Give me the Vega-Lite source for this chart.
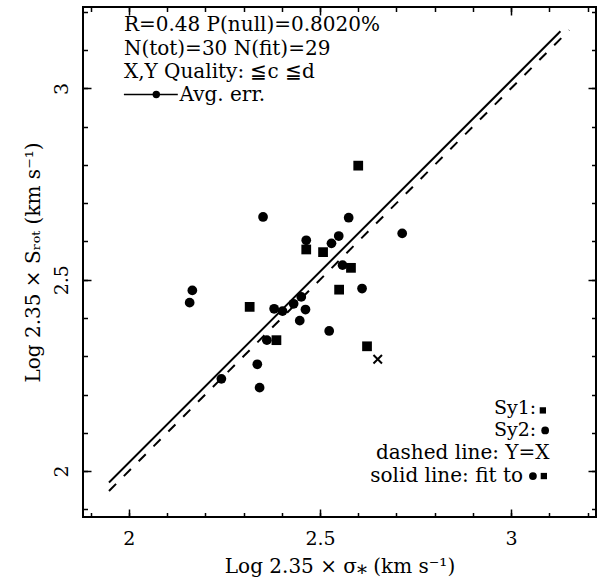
{
  "$schema": "https://vega.github.io/schema/vega-lite/v6.json",
  "width": 513,
  "height": 510,
  "autosize": {"type": "none"},
  "padding": {"left": 83, "top": 7, "right": 2, "bottom": 65},
  "background": "white",
  "config": {
    "view": {"stroke": "black", "strokeWidth": 2},
    "font": "DejaVu Serif",
    "axis": {
      "domain": false, "grid": false, "tickColor": "black", "tickWidth": 1.5,
      "labelColor": "black", "titleColor": "black",
      "labelFont": "DejaVu Serif", "titleFont": "DejaVu Serif",
      "labelFontSize": 19, "titleFontSize": 20, "titleFontWeight": "normal"
    }
  },
  "datasets": {
    "pts": [
      {"sx": 2.600, "sy": 2.798, "grp": "Sy1"},
      {"sx": 2.464, "sy": 2.579, "grp": "Sy1"},
      {"sx": 2.508, "sy": 2.572, "grp": "Sy1"},
      {"sx": 2.581, "sy": 2.531, "grp": "Sy1"},
      {"sx": 2.550, "sy": 2.474, "grp": "Sy1"},
      {"sx": 2.316, "sy": 2.429, "grp": "Sy1"},
      {"sx": 2.386, "sy": 2.342, "grp": "Sy1"},
      {"sx": 2.623, "sy": 2.326, "grp": "Sy1"},
      {"sx": 2.351, "sy": 2.664, "grp": "Sy2"},
      {"sx": 2.575, "sy": 2.662, "grp": "Sy2"},
      {"sx": 2.715, "sy": 2.621, "grp": "Sy2"},
      {"sx": 2.464, "sy": 2.603, "grp": "Sy2"},
      {"sx": 2.549, "sy": 2.614, "grp": "Sy2"},
      {"sx": 2.530, "sy": 2.595, "grp": "Sy2"},
      {"sx": 2.559, "sy": 2.538, "grp": "Sy2"},
      {"sx": 2.610, "sy": 2.477, "grp": "Sy2"},
      {"sx": 2.166, "sy": 2.472, "grp": "Sy2"},
      {"sx": 2.159, "sy": 2.440, "grp": "Sy2"},
      {"sx": 2.380, "sy": 2.424, "grp": "Sy2"},
      {"sx": 2.402, "sy": 2.418, "grp": "Sy2"},
      {"sx": 2.431, "sy": 2.437, "grp": "Sy2"},
      {"sx": 2.451, "sy": 2.455, "grp": "Sy2"},
      {"sx": 2.462, "sy": 2.422, "grp": "Sy2"},
      {"sx": 2.447, "sy": 2.393, "grp": "Sy2"},
      {"sx": 2.524, "sy": 2.366, "grp": "Sy2"},
      {"sx": 2.361, "sy": 2.342, "grp": "Sy2"},
      {"sx": 2.336, "sy": 2.279, "grp": "Sy2"},
      {"sx": 2.242, "sy": 2.241, "grp": "Sy2"},
      {"sx": 2.342, "sy": 2.218, "grp": "Sy2"},
      {"sx": 2.651, "sy": 2.292, "grp": "X"}
    ],
    "fit": [{"sx": 1.948, "sy": 1.970}, {"sx": 3.129, "sy": 3.149}],
    "yx": [{"sx": 1.948, "sy": 1.948}, {"sx": 3.152, "sy": 3.152}]
  },
  "layer": [
    {
      "data": {"name": "pts"},
      "transform": [{"filter": "datum.grp !== 'X'"}],
      "mark": {"type": "point", "filled": true, "color": "black", "opacity": 1, "size": 95},
      "encoding": {
        "x": {"field": "sx", "type": "quantitative",
              "scale": {"domain": [1.88, 3.222], "nice": false, "zero": false},
              "axis": {"orient": "bottom", "values": [2, 2.5, 3], "format": "~g", "tickSize": -8,
                       "labelPadding": 20, "title": "Log 2.35 × σ⁎ (km s⁻¹)", "titlePadding": 8}},
        "y": {"field": "sy", "type": "quantitative",
              "scale": {"domain": [1.88, 3.2125], "nice": false, "zero": false},
              "axis": {"orient": "left", "values": [2, 2.5, 3], "format": "~g", "tickSize": -8,
                       "labelPadding": 24, "labelAngle": -90, "labelAlign": "center", "labelBaseline": "alphabetic",
                       "title": "Log 2.35 × Sᵣₒₜ (km s⁻¹)", "titlePadding": 9}},
        "shape": {"field": "grp", "type": "nominal",
                  "scale": {"domain": ["Sy1", "Sy2"], "range": ["square", "circle"]}, "legend": null}
      }
    },
    {
      "data": {"name": "pts"},
      "transform": [{"filter": "datum.grp === 'X'"}],
      "mark": {"type": "point", "filled": false, "shape": "M-1,-1L1,1M-1,1L1,-1", "stroke": "black", "strokeWidth": 2, "opacity": 1, "size": 72},
      "encoding": {
        "x": {"field": "sx", "type": "quantitative",
              "axis": {"orient": "bottom", "values": [1.9, 2, 2.1, 2.2, 2.3, 2.4, 2.5, 2.6, 2.7, 2.8, 2.9, 3, 3.1, 3.2],
                       "tickSize": -4.5, "labels": false, "title": null}},
        "y": {"field": "sy", "type": "quantitative",
              "axis": {"orient": "left", "values": [1.9, 2, 2.1, 2.2, 2.3, 2.4, 2.5, 2.6, 2.7, 2.8, 2.9, 3, 3.1, 3.2],
                       "tickSize": -4.5, "labels": false, "title": null}}
      }
    },
    {
      "data": {"name": "fit"},
      "mark": {"type": "line", "color": "black", "strokeWidth": 2},
      "encoding": {
        "x": {"field": "sx", "type": "quantitative",
              "axis": {"orient": "top", "values": [1.9, 2, 2.1, 2.2, 2.3, 2.4, 2.5, 2.6, 2.7, 2.8, 2.9, 3, 3.1, 3.2],
                       "tickSize": -4.5, "labels": false, "title": null}},
        "y": {"field": "sy", "type": "quantitative",
              "axis": {"orient": "right", "values": [1.9, 2, 2.1, 2.2, 2.3, 2.4, 2.5, 2.6, 2.7, 2.8, 2.9, 3, 3.1, 3.2],
                       "tickSize": -4.5, "labels": false, "title": null}}
      }
    },
    {
      "data": {"name": "yx"},
      "mark": {"type": "line", "color": "black", "strokeWidth": 2, "strokeDash": [10, 11]},
      "encoding": {
        "x": {"field": "sx", "type": "quantitative",
              "axis": {"orient": "top", "values": [2, 2.5, 3], "tickSize": -8, "labels": false, "title": null}},
        "y": {"field": "sy", "type": "quantitative",
              "axis": {"orient": "right", "values": [2, 2.5, 3], "tickSize": -8, "labels": false, "title": null}}
      }
    },
    {
      "data": {"values": [{}]},
      "mark": {"type": "text", "align": "left", "baseline": "alphabetic", "fontSize": 20, "font": "DejaVu Serif", "color": "black", "lineHeight": 23.5,
               "text": ["R=0.48 P(null)=0.8020%", "N(tot)=30 N(fit)=29", "X,Y Quality: ≦c ≦d"]},
      "encoding": {"x": {"datum": 1.987, "type": "quantitative", "axis": null}, "y": {"datum": 3.1497, "type": "quantitative", "axis": null}}
    },
    {
      "data": {"values": [{}]},
      "mark": {"type": "rule", "color": "black", "strokeWidth": 1.5},
      "encoding": {"x": {"datum": 1.987, "type": "quantitative", "axis": null}, "x2": {"datum": 2.128}, "y": {"datum": 2.984, "type": "quantitative", "axis": null}}
    },
    {
      "data": {"values": [{}]},
      "mark": {"type": "point", "shape": "circle", "filled": true, "color": "black", "opacity": 1, "size": 55},
      "encoding": {"x": {"datum": 2.0717, "type": "quantitative", "axis": null}, "y": {"datum": 2.984, "type": "quantitative", "axis": null}}
    },
    {
      "data": {"values": [{}]},
      "mark": {"type": "text", "align": "left", "baseline": "alphabetic", "fontSize": 20, "font": "DejaVu Serif", "color": "black", "text": "Avg. err."},
      "encoding": {"x": {"datum": 2.1326, "type": "quantitative", "axis": null}, "y": {"datum": 2.9668, "type": "quantitative", "axis": null}}
    },
    {
      "data": {"values": [{}]},
      "mark": {"type": "text", "align": "right", "baseline": "alphabetic", "fontSize": 19, "font": "DejaVu Serif", "color": "black", "text": "Sy1:"},
      "encoding": {"x": {"datum": 3.0657, "type": "quantitative", "axis": null}, "y": {"datum": 2.1495, "type": "quantitative", "axis": null}}
    },
    {
      "data": {"values": [{}]},
      "mark": {"type": "text", "align": "right", "baseline": "alphabetic", "fontSize": 19, "font": "DejaVu Serif", "color": "black", "text": "Sy2:"},
      "encoding": {"x": {"datum": 3.0657, "type": "quantitative", "axis": null}, "y": {"datum": 2.0907, "type": "quantitative", "axis": null}}
    },
    {
      "data": {"values": [{}]},
      "mark": {"type": "text", "align": "right", "baseline": "alphabetic", "fontSize": 20, "font": "DejaVu Serif", "color": "black", "text": "dashed line: Y=X"},
      "encoding": {"x": {"datum": 3.1005, "type": "quantitative", "axis": null}, "y": {"datum": 2.0306, "type": "quantitative", "axis": null}}
    },
    {
      "data": {"values": [{}]},
      "mark": {"type": "text", "align": "right", "baseline": "alphabetic", "fontSize": 20, "font": "DejaVu Serif", "color": "black", "text": "solid line: fit to"},
      "encoding": {"x": {"datum": 3.031, "type": "quantitative", "axis": null}, "y": {"datum": 1.9705, "type": "quantitative", "axis": null}}
    },
    {
      "data": {"values": [{}]},
      "mark": {"type": "point", "shape": "square", "filled": true, "color": "black", "opacity": 1, "size": 40},
      "encoding": {"x": {"datum": 3.083, "type": "quantitative", "axis": null}, "y": {"datum": 2.1585, "type": "quantitative", "axis": null}}
    },
    {
      "data": {"values": [{}]},
      "mark": {"type": "point", "shape": "circle", "filled": true, "color": "black", "opacity": 1, "size": 60},
      "encoding": {"x": {"datum": 3.089, "type": "quantitative", "axis": null}, "y": {"datum": 2.1063, "type": "quantitative", "axis": null}}
    },
    {
      "data": {"values": [{}]},
      "mark": {"type": "point", "shape": "circle", "filled": true, "color": "black", "opacity": 1, "size": 60},
      "encoding": {"x": {"datum": 3.057, "type": "quantitative", "axis": null}, "y": {"datum": 1.987, "type": "quantitative", "axis": null}}
    },
    {
      "data": {"values": [{}]},
      "mark": {"type": "point", "shape": "square", "filled": true, "color": "black", "opacity": 1, "size": 40},
      "encoding": {"x": {"datum": 3.0856, "type": "quantitative", "axis": null}, "y": {"datum": 1.987, "type": "quantitative", "axis": null}}
    }
  ],
  "resolve": {"axis": {"x": "independent", "y": "independent"}}
}
